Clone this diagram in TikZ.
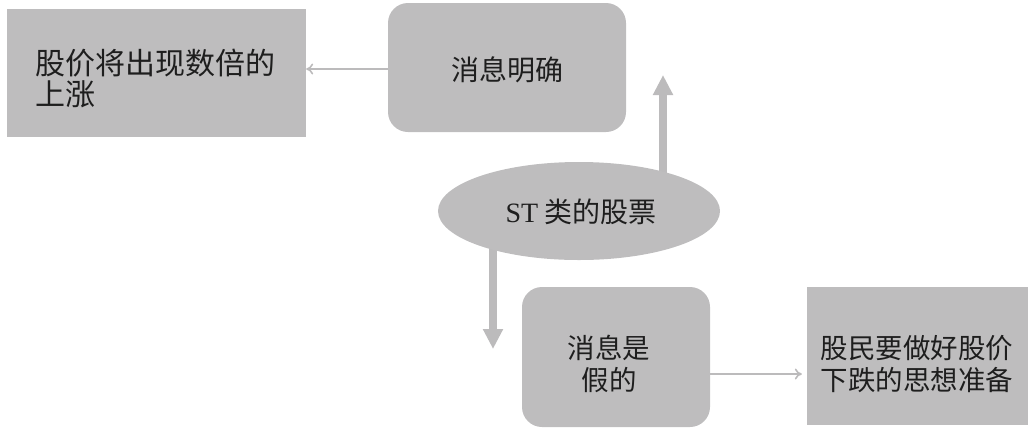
\documentclass[tikz,border=0pt]{standalone}
\usepackage{fontspec}
\setmainfont{Liberation Serif}
\newfontfamily\cjk{Noto Sans CJK SC}
\usetikzlibrary{shapes.geometric,arrows.meta,backgrounds}
\definecolor{boxgray}{RGB}{190,189,190}
\definecolor{arrgray}{RGB}{188,187,188}
\definecolor{txt}{RGB}{30,30,30}
\tikzset{
  base/.style={fill=boxgray,draw=none,text=txt,font=\fontsize{27}{32}\selectfont\cjk,inner sep=0pt},
  sqbox/.style={base,rectangle},
  rbox/.style={base,rectangle,rounded corners=20pt},
  oval/.style={base,ellipse},
  thinarrow/.style={draw=arrgray,line width=1.6pt,-{To[length=7pt,width=11pt]}},
  thickarrow/.style={draw=arrgray,line width=8pt,-{Triangle[length=20pt,width=19pt]}},
}
\begin{document}
\begin{tikzpicture}[x=1pt,y=-1pt]
\useasboundingbox (0,0) rectangle (1030,429);
% boxes
\node[sqbox,minimum width=299pt,minimum height=128pt] (b1) at (156.5,73) {};
\node[text=txt,font=\fontsize{30}{31}\selectfont\cjk,text width=244pt,align=left,inner sep=0pt] (t1) at (157,78) {股价将出现数倍的\\上涨};
\node[rbox,minimum width=238pt,minimum height=129pt] (b2) at (507,67.5) {};
\node[text=txt,font=\fontsize{28}{32}\selectfont\cjk,inner sep=0pt] (t2) at (507,70) {消息明确};
\node[oval,minimum width=282pt,minimum height=98pt] (e) at (579,211) {};
\node[text=txt,font=\fontsize{28}{32}\selectfont\cjk,inner sep=0pt] (te) at (581,212) {{\fontspec{Liberation Serif}ST} 类的股票};
\node[rbox,minimum width=188pt,minimum height=140pt] (b3) at (616,357) {};
\node[text=txt,font=\fontsize{27.5}{32}\selectfont\cjk,align=center,inner sep=0pt] (t3) at (609,364) {消息是\\假的};
\node[sqbox,minimum width=221pt,minimum height=138pt] (b4) at (917.5,356) {};
\node[text=txt,font=\fontsize{27.5}{32}\selectfont\cjk,align=center,inner sep=0pt] (t4) at (917,364) {股民要做好股价\\下跌的思想准备};
% connectors
\coordinate (uptip) at (663,75);
\coordinate (downtip) at (493,349);
\begin{scope}[on background layer]
\draw[thickarrow] (e.center -| uptip) -- (uptip);
\draw[thickarrow] (e.center -| downtip) -- (downtip);
\end{scope}
\draw[thinarrow] (b2.west |- 0,69) -- (b1.east |- 0,69);
\draw[thinarrow] (b3.east |- 0,374) -- ([xshift=-5pt]b4.west |- 0,374);
\end{tikzpicture}
\end{document}
